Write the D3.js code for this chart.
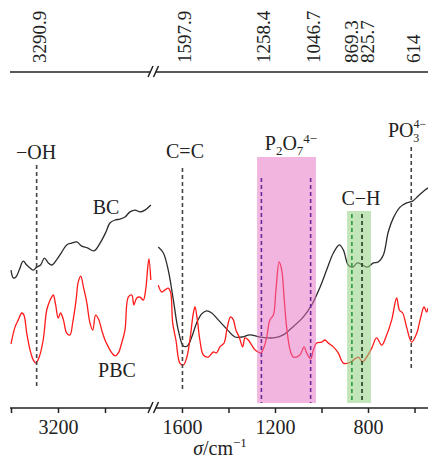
<!DOCTYPE html>
<html>
<head>
<meta charset="utf-8">
<script src="https://cdn.jsdelivr.net/npm/d3@7"></script>
<style>
  body { margin: 0; background: #fff; }
  text { font-family: "Liberation Serif", "Times New Roman", serif; fill: #222; }
</style>
</head>
<body>
<svg id="chart" width="428" height="461"></svg>
<script>
// wavenumbers (cm-1) and transmittance (a.u.), left of the axis break
var bcHighWave = [3400,3390,3379,3365,3348,3333,3319,3305,3291,3274,3258,3241,3227,3206,3184,3163,3142,3120,3099,3075,3047,3021,2996,2979,2957,2936,2915,2894,2872,2851,2830,2805];
var bcHighVal = [43.3,40.7,41,43.3,46.3,45,44,43.3,44.3,45,47.3,45.7,45,46.7,49.3,51.7,52.3,52.7,51.3,50.7,49.7,52.3,56,59,60,60.3,61,62.7,63.3,62.7,63.3,65];
var pbcHighWave = [3400,3383,3369,3354,3345,3333,3319,3305,3294,3280,3263,3248,3237,3227,3220,3210,3199,3189,3177,3163,3149,3137,3123,3114,3103,3092,3078,3064,3052,3040,3026,3014,3000,2986,2971,2957,2943,2929,2915,2901,2886,2877,2865,2851,2837,2827,2818,2813,2805];
var pbcHighVal = [18.7,24.3,26.7,29,28.3,22.3,16.7,13.3,12.3,14.3,20,30,32.7,34.3,35,31.7,27.3,29,26.7,22.3,21.7,26,33.3,39.3,41.3,37.7,32.7,25.7,23.3,28.3,26.7,23.3,20,17.7,15.7,14.7,15.7,19,23.3,34.3,35,31.7,34,34.3,33.3,36.7,44.3,47,40];

// right of the axis break
var bcLowWave = [1702,1680,1659,1637,1616,1594,1577,1558,1537,1515,1494,1472,1444,1408,1372,1343,1308,1265,1207,1164,1128,1078,1042,1006,978,949,923,906,885,866,846,823,803,777,756,734,713,691,662,634,609,584,555,542];
var bcLowVal = [51,49,43.3,33.3,23.3,18,18,21,25.7,28.7,29.7,29,26.7,23.7,21,21,21.7,21,20.7,21.7,24,27.7,31.7,37.7,43.3,49,51.7,50,45,44.3,45.7,45,44.3,45.7,46,48.3,56,60.7,64.3,65.7,66.3,68,70,70.7];
var pbcLowWave = [1702,1687,1673,1659,1649,1640,1626,1609,1594,1580,1566,1551,1544,1534,1523,1508,1487,1465,1451,1437,1419,1405,1391,1379,1368,1354,1339,1329,1315,1300,1286,1272,1260,1247,1236,1222,1207,1196,1182,1171,1161,1150,1135,1121,1093,1075,1064,1046,1035,1021,999,985,971,949,928,906,885,863,842,823,806,784,763,741,723,698,677,665,651,634,612,590,576,559,548,542];
var pbcLowVal = [38.3,36,36.7,37.3,36,25.7,20,12.3,11.7,14,20,29,31,26.7,20,15,14.3,16,15.7,17.7,19,24.3,27.7,26.7,23.3,21,17.7,20.7,20,18.3,16.7,16,15.7,17.7,20.7,26.7,28.3,36.7,46,43.3,34.3,24.3,16.7,14.3,15,17.7,15.7,13.7,16.7,19,19.3,20,19,17.7,15.7,12.3,12.3,13.3,14.3,12.7,14.3,17.3,20.7,18.3,21,26.7,34,30,29,24.3,19.3,22.3,26.7,31,29.3,30.7];

// peak positions on the top axis
var peakWaves = [3290.9, 1597.9, 1258.4, 1046.7, 869.3, 825.7, 614];
var peakLabels = ["3290.9", "1597.9", "1258.4", "1046.7", "869.3", "825.7", "614"];

// bottom axis ticks
var highTicks = [3400, 3200, 3000];
var lowTicks = [1600, 1400, 1200, 1000, 800, 600];
var tickLabels = [3200, 1600, 1200, 800];

// shaded bands
var p2o7Band = [1277, 1024];
var chBand = [890, 787];

var svg = d3.select("#chart");

var xHigh = d3.scaleLinear().domain([3400, 2800]).range([11, 152]);
var xLow = d3.scaleLinear().domain([1716, 542]).range([155, 428]);
var y = d3.scaleLinear().domain([0, 100]).range([400, 100]);
function xPos(w) { return w > 2000 ? xHigh(w) : xLow(w); }

function zip(ws, vs) { return ws.map(function(w, i) { return {w: w, v: vs[i]}; }); }

var line = d3.line()
    .x(function(d) { return xPos(d.w); })
    .y(function(d) { return y(d.v); })
    .curve(d3.curveCatmullRom.alpha(0.5));

// curves
var curves = [
  {data: zip(bcHighWave, bcHighVal), color: "#2b2b2b"},
  {data: zip(bcLowWave, bcLowVal), color: "#2b2b2b"},
  {data: zip(pbcHighWave, pbcHighVal), color: "#ff1a1a"},
  {data: zip(pbcLowWave, pbcLowVal), color: "#ff1a1a"}
];
svg.selectAll("path.curve").data(curves).enter().append("path")
    .attr("class", "curve")
    .attr("d", function(d) { return line(d.data); })
    .attr("fill", "none")
    .attr("stroke", function(d) { return d.color; })
    .attr("stroke-width", 1.3);

// bands over the curves
svg.append("rect")
    .attr("x", xLow(p2o7Band[0])).attr("width", xLow(p2o7Band[1]) - xLow(p2o7Band[0]))
    .attr("y", y(81)).attr("height", y(-1) - y(81))
    .attr("fill", "#e66cc0").attr("opacity", 0.5);
svg.append("rect")
    .attr("x", xLow(chBand[0])).attr("width", xLow(chBand[1]) - xLow(chBand[0]))
    .attr("y", y(63)).attr("height", y(-1) - y(63))
    .attr("fill", "#8fd07f").attr("opacity", 0.55);

// dashed marker lines: [wave, top value, bottom value, colour]
var markers = [
  [peakWaves[0], 78.3, 4, "#444"],
  [peakWaves[1], 77.3, 2.7, "#444"],
  [peakWaves[2], 74, -1, "#6a2a9a"],
  [peakWaves[3], 74, -1, "#6a2a9a"],
  [peakWaves[4], 62, -1, "#2f9a3a"],
  [peakWaves[5], 62, -1, "#1f3f22"],
  [peakWaves[6], 84.3, 10, "#444"]
];
svg.selectAll("line.marker").data(markers).enter().append("line")
    .attr("class", "marker")
    .attr("x1", function(d) { return xPos(d[0]); })
    .attr("x2", function(d) { return xPos(d[0]); })
    .attr("y1", function(d) { return y(d[1]); })
    .attr("y2", function(d) { return y(d[2]); })
    .attr("stroke", function(d) { return d[3]; })
    .attr("stroke-width", 1.6)
    .attr("stroke-dasharray", "4,3");

// group labels
function label(x, yy, parts, anchor) {
  var t = svg.append("text").attr("x", x).attr("y", yy)
      .attr("font-size", 20).attr("text-anchor", anchor || "middle");
  parts.forEach(function(p) {
    var s = t.append("tspan").text(p[0]);
    if (p[1]) s.attr("dy", p[1]);
    if (p[2]) s.attr("font-size", p[2]);
    if (p[3] !== undefined) s.attr("dx", p[3]);
  });
  return t;
}
label(36, 159, [["\u2212OH"]]);
label(185, 158, [["C=C"]]);
label(291, 150, [["P"], ["2", 5, 13], ["O", -5], ["7", 5, 13], ["4\u2212", -12, 13]]);
label(361, 205, [["C\u2212H"]]);
label(388, 137, [["PO"], ["4\u2212", -9, 12], ["3", 14, 12, -13]], "start");
label(106, 214, [["BC"]]);
label(117, 377, [["PBC"]]);

// top axis with peak labels
function axisLine(yy) {
  svg.append("line").attr("x1", 10).attr("x2", 428).attr("y1", yy).attr("y2", yy)
      .attr("stroke", "#222").attr("stroke-width", 1.5);
  svg.append("rect").attr("x", 150.5).attr("y", yy - 3).attr("width", 5).attr("height", 6).attr("fill", "#fff");
  [148, 153.5].forEach(function(bx) {
    svg.append("line").attr("x1", bx).attr("y1", yy + 5).attr("x2", bx + 5).attr("y2", yy - 6)
        .attr("stroke", "#222").attr("stroke-width", 1.5);
  });
}
axisLine(72);

var labelX = peakWaves.map(function(w) { return xPos(w) + 9; });
for (var i = 1; i < labelX.length; i++) {
  var gap = labelX[i] - labelX[i - 1];
  if (gap < 16) { labelX[i - 1] -= (16 - gap) / 2; labelX[i] += (16 - gap) / 2; }
}
svg.selectAll("text.peak").data(peakLabels).enter().append("text")
    .attr("class", "peak")
    .attr("transform", function(d, i) { return "translate(" + labelX[i] + ",63) rotate(-90)"; })
    .attr("font-size", 19)
    .text(function(d) { return d; });

// bottom axis
var axisY = 408;
axisLine(axisY);
function fmt(d) { return tickLabels.indexOf(d) >= 0 ? d : ""; }
[[xHigh, highTicks], [xLow, lowTicks]].forEach(function(a) {
  var g = svg.append("g").attr("transform", "translate(0," + axisY + ")")
      .call(d3.axisBottom(a[0]).tickValues(a[1]).tickSize(5).tickPadding(7).tickFormat(fmt));
  g.select(".domain").remove();
  g.selectAll(".tick line").attr("stroke", "#222").attr("stroke-width", 1.5);
  g.selectAll(".tick text").attr("font-size", 20).attr("fill", "#222")
      .attr("font-family", "Liberation Serif, Times New Roman, serif");
});

var xl = svg.append("text").attr("x", 220).attr("y", 455).attr("text-anchor", "middle").attr("font-size", 20);
xl.append("tspan").attr("font-style", "italic").text("\u03c3");
xl.append("tspan").text("/cm");
xl.append("tspan").attr("dy", -8).attr("font-size", 13).text("\u22121");
</script>
</body>
</html>
